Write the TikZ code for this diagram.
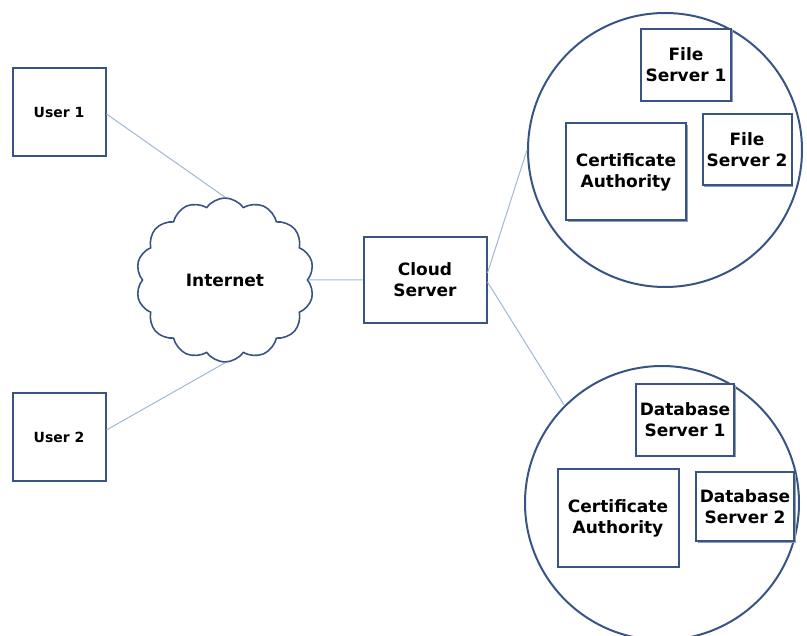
\documentclass[tikz,border=0pt]{standalone}
\usepackage{fontspec}
\setmainfont{DejaVu Sans}
\usepackage{xcolor}
\usepackage{tikz}
\usetikzlibrary{shapes.symbols}
\usetikzlibrary{shadows}
\usetikzlibrary{positioning}
\definecolor{boxblue}{rgb}{0.22,0.33,0.52}
\definecolor{shadeblue}{rgb}{0.55,0.62,0.72}
\definecolor{wireblue}{rgb}{0.62,0.72,0.84}

\begin{document}
\begin{tikzpicture}[
  x=1pt, y=-1pt,
  font=\bfseries\fontsize{17}{21}\selectfont,
  box/.style={draw=boxblue, line width=2pt, fill=white, rectangle, align=center,
    drop shadow={shadow xshift=1.5pt, shadow yshift=-1.5pt, fill=shadeblue, opacity=1}},
  group/.style={draw=boxblue, line width=2pt, circle, minimum size=274pt},
  wire/.style={draw=wireblue, line width=1pt}]
  \useasboundingbox (0,0) rectangle (807,636);
  % left side
  \node[box, minimum width=93pt, minimum height=88pt, font=\bfseries\fontsize{14}{17}\selectfont] (user1) at (59,112) {User 1};
  \node[box, minimum width=93pt, minimum height=88pt, font=\bfseries\fontsize{14}{17}\selectfont] (user2) at (59,437) {User 2};
  \node[cloud, cloud puffs=14, cloud puff arc=110, aspect=1.1, draw=boxblue, line width=1.6pt,
    minimum width=178pt, minimum height=164pt] (internet) at (225,280) {Internet};
  \node[box, minimum width=123pt, minimum height=86pt] (cloudsrv) at (425,280) {Cloud\\Server};
  % file servers
  \node[group] (filegroup) at (665,150) {};
  \node[box, minimum width=90pt, minimum height=72pt] (file1) at (686,65) {File\\Server 1};
  \node[box, minimum width=120pt, minimum height=97pt] (ca1) at (626,172) {Certificate\\Authority};
  \node[box, minimum width=89pt, minimum height=71pt] (file2) at (747,150) {File\\Server 2};
  % database servers
  \node[group] (dbgroup) at (662,503) {};
  \node[box, minimum width=98pt, minimum height=72pt] (db1) at (685,420) {Database\\Server 1};
  \node[box, minimum width=121pt, minimum height=98pt] (ca2) at (618,518) {Certificate\\Authority};
  \node[box, minimum width=98pt, minimum height=69pt] (db2) at (745,507) {Database\\Server 2};
  % links
  \draw[wire] ([yshift=-2pt]user1.east) -- (internet.north);
  \draw[wire] ([yshift=7pt]user2.east) -- (internet.south);
  \draw[wire] (internet.east) -- (cloudsrv.west);
  \draw[wire] ([yshift=7pt]cloudsrv.east) -- (filegroup.west);
  \draw[wire] ([yshift=-2pt]cloudsrv.east) -- (dbgroup.north west);
\end{tikzpicture}
\end{document}
